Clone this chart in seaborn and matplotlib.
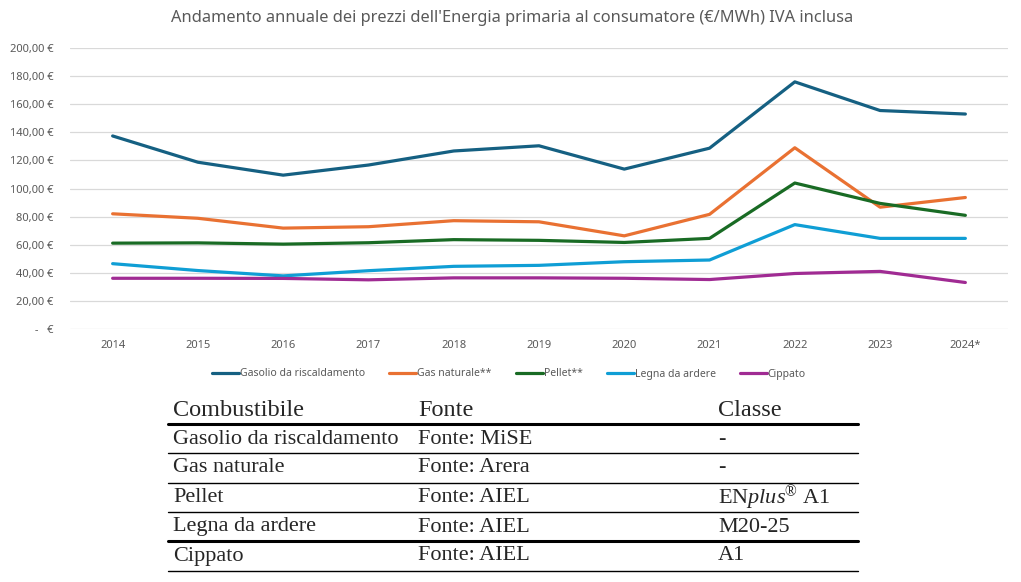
import numpy as np
import pandas as pd
import seaborn as sns
import matplotlib
matplotlib.use("Agg")
import matplotlib.pyplot as plt
from matplotlib.lines import Line2D
from matplotlib.ticker import FuncFormatter

# dati (€/MWh)
anni = ['2014', '2015', '2016', '2017', '2018', '2019', '2020', '2021', '2022', '2023', '2024*']
gasolio = [137.4, 118.7, 109.5, 116.7, 126.7, 130.4, 113.8, 128.7, 175.9, 155.5, 153.0]
gas_naturale = [82.0, 78.8, 71.8, 72.8, 77.1, 76.3, 66.3, 81.6, 129.0, 86.7, 93.6]
pellet = [61.1, 61.3, 60.4, 61.4, 63.6, 63.1, 61.6, 64.5, 103.9, 89.4, 80.9]
legna = [46.5, 41.6, 37.8, 41.5, 44.6, 45.3, 47.9, 49.1, 74.3, 64.5, 64.5]
cippato = [36.1, 36.1, 36.0, 35.0, 36.4, 36.4, 36.1, 35.2, 39.5, 41.0, 33.1]

serie = ['Gasolio da riscaldamento', 'Gas naturale**', 'Pellet**', 'Legna da ardere', 'Cippato']
colori = ['#156082', '#E97132', '#196B24', '#0F9ED5', '#A02B93']

tab_header = ['Combustibile', 'Fonte', 'Classe']
tab_comb = ['Gasolio da riscaldamento', 'Gas naturale', 'Pellet', 'Legna da ardere', 'Cippato']
tab_fonte = ['Fonte: MiSE', 'Fonte: Arera', 'Fonte: AIEL', 'Fonte: AIEL', 'Fonte: AIEL']
tab_classe = ['-', '-', r'EN$\mathit{plus}$$^{®}$ A1', 'M20-25', 'A1']

W, H = 1021, 582
def fx(x): return x / W
def fy(y): return 1 - y / H

sns.set_theme(style='white')
plt.rcParams['font.family'] = ['Noto Sans', 'DejaVu Sans']
plt.rcParams['mathtext.fontset'] = 'custom'
plt.rcParams['mathtext.rm'] = 'Liberation Serif'
plt.rcParams['mathtext.it'] = 'Liberation Serif:italic'

df = pd.DataFrame({'anno': anni * 5,
                   'valore': gasolio + gas_naturale + pellet + legna + cippato,
                   'serie': [s for s in serie for _ in anni]})

fig = plt.figure(figsize=(W / 100, H / 100), dpi=100)
ax = fig.add_axes([fx(70), fy(329), fx(1008) - fx(70), fy(48) - fy(329)])
sns.lineplot(data=df, x='anno', y='valore', hue='serie', hue_order=serie,
             palette=colori, linewidth=2.3, ax=ax, legend=False, sort=False)

ax.set_xlim(-0.5, len(anni) - 0.5)
ax.set_ylim(0, 200)
ax.set_yticks(np.arange(0, 201, 20))
ax.yaxis.set_major_formatter(FuncFormatter(
    lambda v, p: ' -   €' if v == 0 else f'{v:.2f} €'.replace('.', ',')))
ax.grid(axis='y', color='#d9d9d9', linewidth=0.9)
ax.grid(axis='x', visible=False)
for s in ax.spines.values():
    s.set_visible(False)
ax.tick_params(axis='both', length=0, labelsize=8, colors='#595959')
ax.tick_params(axis='x', pad=8)
ax.tick_params(axis='y', pad=12)
ax.set_xlabel('')
ax.set_ylabel('')

fig.text(fx(512), fy(18), "Andamento annuale dei prezzi dell'Energia primaria al consumatore (€/MWh) IVA inclusa",
         ha='center', va='center', fontsize=11.8, color='#595959')

handles = [Line2D([], [], color=c, linewidth=2.3) for c in colori]
fig.legend(handles, serie, loc='center', bbox_to_anchor=(fx(509), fy(374)), ncol=5,
           frameon=False, fontsize=7.5, handlelength=2.6, handletextpad=0.1,
           columnspacing=2.3, labelcolor='#595959')

# tabella fonti
serif = 'Liberation Serif'
col_x = [173, 418, 718]
fig.add_artist(Line2D([fx(168), fx(858)], [fy(424), fy(424)], color='black', linewidth=2.2))
for y in [453, 483, 512, 571]:
    fig.add_artist(Line2D([fx(168), fx(858)], [fy(y), fy(y)], color='black', linewidth=1.0))
fig.add_artist(Line2D([fx(168), fx(858)], [fy(541), fy(541)], color='black', linewidth=2.2))

for x, t in zip(col_x, tab_header):
    fig.text(fx(x), fy(410), t, ha='left', va='center', fontsize=17.5, family=serif)
righe_y = [439, 468, 498, 527, 556]
for i, y in enumerate(righe_y):
    fig.text(fx(col_x[0]), fy(y), tab_comb[i], ha='left', va='center', fontsize=16, family=serif)
    fig.text(fx(col_x[1]), fy(y), tab_fonte[i], ha='left', va='center', fontsize=16, family=serif)
    fig.text(fx(col_x[2]), fy(y), tab_classe[i], ha='left', va='center', fontsize=16, family=serif)

fig.savefig('out.png', dpi=100)
